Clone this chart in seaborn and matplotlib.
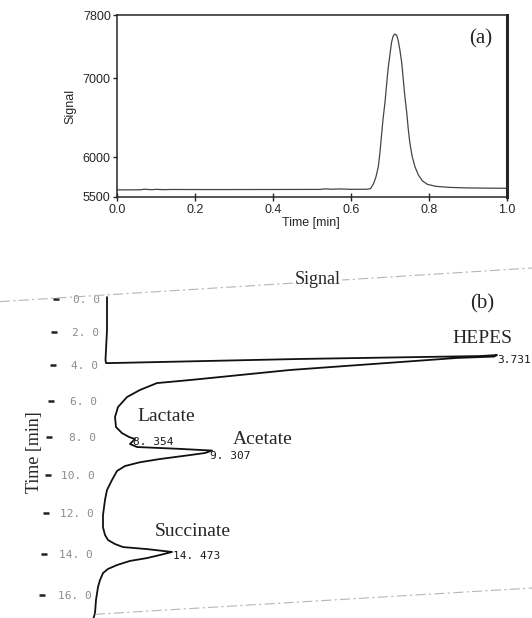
import matplotlib
matplotlib.use("Agg")
import matplotlib.pyplot as plt
import numpy as np
import seaborn as sns
from matplotlib.lines import Line2D
from matplotlib.transforms import ScaledTranslation

# ---- panel (a): flow injection peak ----
time_a = [0.0, 0.06, 0.07, 0.09, 0.10, 0.12, 0.14, 0.25, 0.40, 0.52, 0.535, 0.55,
          0.57, 0.60, 0.641, 0.650, 0.658, 0.664, 0.670, 0.674, 0.678, 0.682,
          0.687, 0.691, 0.695, 0.700, 0.704, 0.708, 0.712, 0.717, 0.721, 0.725,
          0.730, 0.734, 0.738, 0.743, 0.747, 0.751, 0.757, 0.764, 0.773, 0.783,
          0.796, 0.817, 0.851, 0.894, 0.946, 1.0]
signal_a = [5590, 5591, 5598, 5592, 5597, 5593, 5595, 5594, 5595, 5596, 5603, 5598,
            5602, 5597, 5598, 5606, 5670, 5755, 5882, 6052, 6265, 6478,
            6690, 6903, 7115, 7307, 7455, 7532, 7560, 7545, 7477, 7370,
            7200, 6988, 6775, 6563, 6350, 6180, 6010, 5882, 5776, 5704,
            5660, 5635, 5622, 5615, 5612, 5610]

# ---- panel (b): scanned chromatogram, time runs downwards ----
signal_b = [7, 7, 6, 5.5, 6, 10, 200, 380, 397, 394, 357, 190, 100, 80, 57, 40,
            27, 18, 15, 16, 22, 29, 35, 32, 30, 37, 80, 112, 105, 90, 60, 40, 25,
            17, 12, 7, 5, 3, 3, 5, 8, 15, 23, 47, 72, 60, 47, 30, 17, 8, 3, 0,
            -2, -4, -5, -7]
time_b = [-0.12, 1.90, 3.09, 3.68, 3.86, 3.86, 3.62, 3.45, 3.39, 3.48, 3.56, 4.26,
          4.78, 4.89, 5.01, 5.40, 5.80, 6.36, 6.91, 7.46, 7.79, 8.00, 8.11, 8.27,
          8.38, 8.54, 8.64, 8.73, 8.86, 8.97, 9.18, 9.35, 9.55, 9.81, 10.28,
          10.80, 11.31, 12.08, 12.70, 13.08, 13.33, 13.53, 13.68, 13.78, 13.92,
          14.07, 14.22, 14.36, 14.56, 14.75, 14.95, 15.29, 15.62, 16.24, 16.86,
          17.18]

time_ticks = [0, 2, 4, 6, 8, 10, 12, 14, 16]
time_tick_labels = ["0. 0", "2. 0", "4. 0", "6. 0", "8. 0", "10. 0", "12. 0",
                    "14. 0", "16. 0"]

peak_names = ["HEPES", "Lactate", "Acetate", "Succinate"]
name_signal = [382, 66, 163, 93]
name_time = [2.44, 6.86, 8.11, 12.93]

rt_labels = ["3.731", "8. 354", "9. 307", "14. 473"]
rt_signal = [397, 33, 110, 73]
rt_time = [3.68, 8.27, 9.02, 14.12]

# edges of the scanned page (figure pixels)
scan_edges = [((0, 301.6), (532, 268)), ((95, 614.3), (532, 588))]

W, H = 532, 618

sns.set_style("ticks")
plt.rcParams["font.family"] = ["Liberation Sans", "DejaVu Sans"]

fig = plt.figure(figsize=(W / 100, H / 100), dpi=100)

# ---------------- (a) ----------------
ax_a = fig.add_axes([117 / W, 1 - 197 / H, 390 / W, 182 / H])
sns.lineplot(x=time_a, y=signal_a, ax=ax_a, color="#454545", lw=0.9,
             estimator=None, sort=False)
ax_a.set_xlim(0, 1)
ax_a.set_ylim(5500, 7800)
ax_a.set_xticks([0, 0.2, 0.4, 0.6, 0.8, 1.0])
ax_a.set_xticklabels(["0.0", "0.2", "0.4", "0.6", "0.8", "1.0"])
ax_a.set_yticks([5500, 6000, 7000, 7800])
ax_a.tick_params(axis="x", direction="inout", length=6, width=1, pad=2,
                 labelsize=9, bottom=True)
ax_a.tick_params(axis="y", direction="out", length=3, width=1, pad=1.5,
                 labelsize=9, left=True)
for side in ["left", "bottom", "top"]:
    ax_a.spines[side].set_linewidth(1.1)
ax_a.spines["right"].set_linewidth(2.2)
ax_a.set_xlabel("Time [min]", fontsize=9)
ax_a.set_ylabel("Signal", fontsize=9)
ax_a.xaxis.set_label_coords(0.497, -0.112)
ax_a.yaxis.set_label_coords(-0.103, 0.5)
fig.text(481 / W, 1 - 39 / H, "(a)", family="Liberation Serif", fontsize=15,
         ha="center", va="center")

# ---------------- (b) ----------------
def fwd(t):
    t = np.asarray(t, dtype=float)
    return 16 * t + 0.156 * t ** 2


def inv(d):
    d = np.asarray(d, dtype=float)
    return (np.sqrt(np.clip(256 + 0.624 * d, 0, None)) - 16) / 0.312


ax_b = fig.add_axes([53 / W, 0, 479 / W, 330 / H])
ax_b.patch.set_visible(False)
sns.lineplot(x=signal_b, y=time_b, ax=ax_b, color="#111111", lw=1.3,
             estimator=None, sort=False)
ax_b.set_yscale("function", functions=(fwd, inv))
ax_b.set_xlim(-47, 432)
ax_b.set_ylim(float(inv(319)), float(inv(-11)))
ax_b.set_xticks([])
ax_b.set_yticks(time_ticks)
ax_b.set_yticklabels(time_tick_labels, fontfamily="DejaVu Sans Mono")
for s in ax_b.spines.values():
    s.set_visible(False)
ax_b.tick_params(axis="y", direction="in", length=4, width=1.8, color="#222222",
                 pad=-34, labelsize=8, labelcolor="#8c8c8c", left=True)
ax_b.set_ylabel("Time [min]", family="Liberation Serif", fontsize=13)
ax_b.yaxis.set_label_coords(-0.021, 0.503)

# the scan is slightly rotated: shift the tick column leftwards going down
for tick, t in zip(ax_b.yaxis.get_major_ticks(), time_ticks):
    tick.tick1line.set_transform(tick.tick1line.get_transform() +
                                 ScaledTranslation(-0.85 * t / 100, 0, fig.dpi_scale_trans))
    tick.label1.set_transform(tick.label1.get_transform() +
                              ScaledTranslation(-0.5 * t / 100, 0, fig.dpi_scale_trans))

for name, s, t in zip(peak_names, name_signal, name_time):
    ax_b.text(s, t, name, family="Liberation Serif", fontsize=14,
              ha="center", va="center")
for lab, s, t in zip(rt_labels, rt_signal, rt_time):
    ax_b.text(s, t, lab, family="DejaVu Sans Mono", fontsize=8, color="#1a1a1a",
              ha="left", va="center")

for (x0, y0), (x1, y1) in scan_edges:
    fig.add_artist(Line2D([x0 / W, x1 / W], [1 - y0 / H, 1 - y1 / H],
                          transform=fig.transFigure, color="#b5b5b5", lw=0.8,
                          ls=(0, (9, 3, 2, 3))))

fig.text(318 / W, 1 - 280 / H, "Signal", family="Liberation Serif", fontsize=13,
         ha="center", va="center",
         bbox=dict(facecolor="white", edgecolor="none", pad=0.5))
fig.text(482 / W, 1 - 304 / H, "(b)", family="Liberation Serif", fontsize=15,
         ha="center", va="center")

fig.savefig("out.png", dpi=100)
